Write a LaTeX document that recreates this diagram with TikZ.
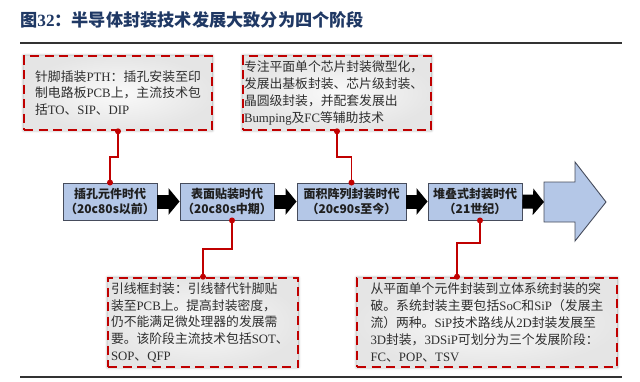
\documentclass[tikz,border=0pt]{standalone}
\usepackage{fontspec}
\setmainfont{Noto Sans CJK SC}
\newfontfamily\lat{Liberation Serif}
\usetikzlibrary{arrows.meta,shadows.blur,calc}
\XeTeXlinebreaklocale "zh"
\XeTeXlinebreakskip=0pt plus 4pt
\definecolor{ttl}{RGB}{31,56,100}
\definecolor{stg}{RGB}{180,199,231}
\definecolor{stgb}{RGB}{70,76,92}
\definecolor{dred}{RGB}{192,0,0}
\newcommand\La[1]{{\lat #1}}
\begin{document}
\begin{tikzpicture}[x=1pt,y=-1pt,
  callout/.style={draw=dred, line width=2.6pt, dash pattern=on 9pt off 5.5pt,
    inner color=gray!4, outer color=gray!20,
    blur shadow={shadow blur radius=3pt, shadow xshift=0pt, shadow yshift=0pt, shadow opacity=45},
    inner sep=0pt, align=justify, font=\fontsize{12.8pt}{16.8pt}\selectfont, text=black!82},
  stagebox/.style={draw=stgb, line width=0.9pt, fill=stg, minimum height=37pt, inner sep=0pt,
    align=center, font=\bfseries\fontsize{12pt}{15pt}\selectfont, text=black!88},
  bigarrow/.style={draw=stgb, line width=0.9pt, fill=stg},
  blk/.style={black, line width=14pt, -{Triangle[length=11pt,width=26pt]}},
  conn/.style={dred, line width=1.8pt},
  dot/.style={fill=dred},
  rule/.style={line width=1.1pt, black!80}]
\useasboundingbox (0,0) rectangle (640,381);

% title and rules
\node[anchor=west, inner sep=0pt, font=\bfseries\fontsize{17.2pt}{19pt}\selectfont, text=ttl] (title) at (20,20) {图\La{32}：半导体封装技术发展大致分为四个阶段};
\draw[rule] (20,43) -- (622,43);
\draw[rule] (20,377) -- (622,377);

% stage boxes
\node[stagebox, minimum width=94pt] (sA) at (110,201.5) {插孔元件时代\\（20c80s以前）};
\node[stagebox, minimum width=94pt] (sB) at (227,201.5) {表面贴装时代\\（20c80s中期）};
\node[stagebox, minimum width=109pt] (sC) at (351.5,201.5) {面积阵列封装时代\\（20c90s至今）};
\node[stagebox, minimum width=94pt] (sD) at (475,201.5) {堆叠式封装时代\\（21世纪）};

% big arrow
\draw[bigarrow] (544,182) -- (575,182) -- (575,162) -- (606,202) -- (575,241) -- (575,222) -- (544,222) -- cycle;
\coordinate (bigL) at (544,202);

% black arrows
\draw[blk] (sA.east) -- (sB.west);
\draw[blk] (sB.east) -- (sC.west);
\draw[blk] (sC.east) -- (sD.west);
\draw[blk] (sD.east) -- (bigL);

% callouts
\node[callout, minimum width=188pt, minimum height=74pt, text width=166pt] (c1) at (118,93)
 {\leftskip=-3pt 针脚插装\La{PTH}：插孔安装至印\linebreak 制电路板\La{PCB}上，主流技术包\linebreak 括\La{TO}、\La{SIP}、\La{DIP}};
\node[callout, minimum width=188pt, minimum height=74pt, text width=186pt] (c2) at (337,93)
 {\leftskip=4pt 专注平面单个芯片封装微型化，\\ 发展出基板封装、芯片级封装、\\ 晶圆级封装，并配套发展出\\ \La{Bumping}及\La{FC}等辅助技术};
\node[callout, minimum width=190pt, minimum height=89pt, text width=184pt] (c3) at (203,322.5)
 {\leftskip=2pt 引线框封装：引线替代针脚贴\\ 装至\La{PCB}上。提高封装密度，\\ 仍不能满足微处理器的发展需\\ 要。该阶段主流技术包括\La{SOT}、\\ \La{SOP}、\La{QFP}};
\node[callout, minimum width=260pt, minimum height=89pt, text width=233pt] (c4) at (487,322.5)
 {\leftskip=-5pt 从平面单个元件封装到立体系统封装的突\\ 破。系统封装主要包括\La{SoC}和\La{SiP}（发展主\linebreak 流）两种。\La{SiP}技术路线从\La{2D}封装发展至\\ \La{3D}封装，\La{3DSiP}可划分为三个发展阶段：\\ \La{FC}、\La{POP}、\La{TSV}};

% connectors
\coordinate (k1) at (0,157);
\coordinate (k3) at (0,249);
\coordinate (k4) at (0,243);
\draw[conn] (c1.south) -- (c1.south |- k1) -| (sA.north);
\draw[conn] (c2.south) -- (c2.south |- k1) -| (sC.north);
\draw[conn] ([xshift=5pt]sB.south) -- ([xshift=5pt]sB.south |- k3) -| (c3.north);
\draw[conn] ([xshift=5pt]sD.south) -- ([xshift=5pt]sD.south |- k4) -| ([xshift=-30pt]c4.north);
\fill[dot] (c1.south) circle (3pt);
\fill[dot] (sA.north) circle (3pt);
\fill[dot] (c2.south) circle (3pt);
\fill[dot] (sC.north) circle (3pt);
\fill[dot] ([xshift=5pt]sB.south) circle (3pt);
\fill[dot] (c3.north) circle (3pt);
\fill[dot] ([xshift=5pt]sD.south) circle (3pt);
\fill[dot] ([xshift=-30pt]c4.north) circle (3pt);
\end{tikzpicture}
\end{document}
